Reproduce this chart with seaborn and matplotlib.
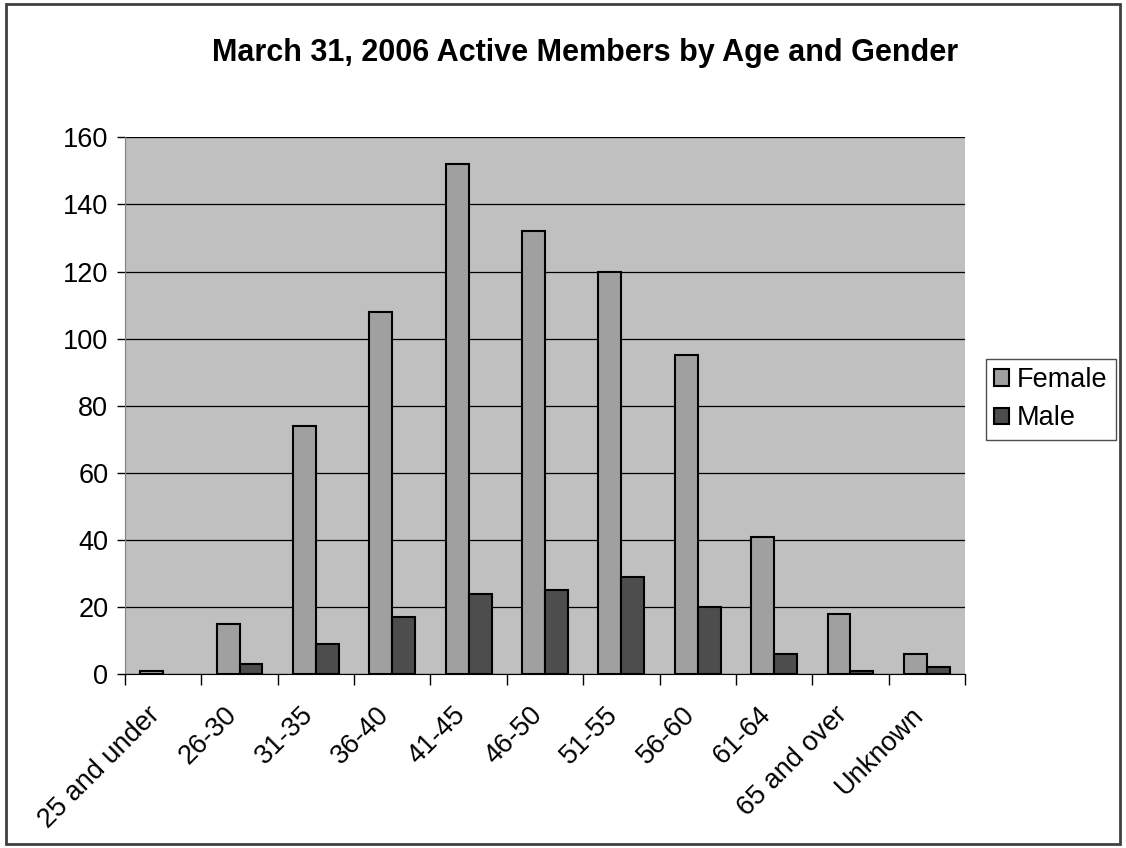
import matplotlib
matplotlib.use("Agg")
import matplotlib.pyplot as plt
import matplotlib.transforms as mtransforms
import pandas as pd
import seaborn as sns

# Active members by age group
age_groups = ["25 and under", "26-30", "31-35", "36-40", "41-45", "46-50",
              "51-55", "56-60", "61-64", "65 and over", "Unknown"]
female = [1, 15, 74, 108, 152, 132, 120, 95, 41, 18, 6]
male = [0, 3, 9, 17, 24, 25, 29, 20, 6, 1, 2]

df = pd.DataFrame({
    "Age": age_groups * 2,
    "Members": female + male,
    "Gender": ["Female"] * len(age_groups) + ["Male"] * len(age_groups),
})

sns.set_style("white")
plt.rcParams["font.family"] = ["Liberation Sans", "DejaVu Sans"]
plt.rcParams["text.color"] = "black"
plt.rcParams["xtick.color"] = "black"
plt.rcParams["ytick.color"] = "black"

fig = plt.figure(figsize=(11.26, 8.48), dpi=100)
fig.patch.set_facecolor("white")
ax = fig.add_axes([0.111, 0.205, 0.746, 0.633])

sns.barplot(data=df, x="Age", y="Members", hue="Gender",
            palette={"Female": "#A0A0A0", "Male": "#4D4D4D"},
            width=0.6, edgecolor="black", linewidth=1.5, saturation=1,
            ax=ax, zorder=3)

# zero-height bars are not drawn in the original
for cont in ax.containers:
    for p in cont:
        if p.get_height() == 0:
            p.set_visible(False)

ax.set_facecolor("#C0C0C0")
ax.set_ylim(0, 160)
ax.set_xlim(-0.5, len(age_groups) - 0.5)
ax.set_yticks(range(0, 161, 20))
ax.yaxis.grid(True, color="black", linewidth=0.9, zorder=0)
ax.set_axisbelow(True)
for side in ["top", "right"]:
    ax.spines[side].set_visible(False)
ax.spines["left"].set_color("#808080")
ax.spines["bottom"].set_color("black")
ax.set_xlabel("")
ax.set_ylabel("")

# category boundary ticks on x axis
ax.set_xticks([i - 0.5 for i in range(len(age_groups) + 1)], minor=True)
ax.tick_params(axis="x", which="minor", length=8, width=1, color="black", bottom=True)
ax.tick_params(axis="x", which="major", length=0, labelsize=19.5, pad=20)
ax.tick_params(axis="y", length=6, width=1, color="black", labelsize=19.5, left=True, pad=6)
shift = mtransforms.ScaledTranslation(-16 / 100, 0, fig.dpi_scale_trans)
for lbl in ax.get_xticklabels():
    lbl.set_rotation(45)
    lbl.set_ha("right")
    lbl.set_rotation_mode("anchor")
    lbl.set_transform(lbl.get_transform() + shift)

fig.text(0.52, 0.937, "March 31, 2006 Active Members by Age and Gender",
         fontsize=22, fontweight="bold", ha="center", va="center")

leg = ax.legend(loc="center left", bbox_to_anchor=(1.025, 0.512), fontsize=19.5,
                frameon=True, fancybox=False, edgecolor="#202020",
                handlelength=0.55, handleheight=0.55, handletextpad=0.3,
                borderpad=0.3, labelspacing=0.45, borderaxespad=0)
leg.get_frame().set_linewidth(1)

# outer chart border
border = plt.Rectangle((0.005, 0.005), 0.99, 0.99, transform=fig.transFigure,
                       fill=False, edgecolor="#404040", linewidth=2)
fig.patches.append(border)

fig.savefig("out.png", dpi=100)
